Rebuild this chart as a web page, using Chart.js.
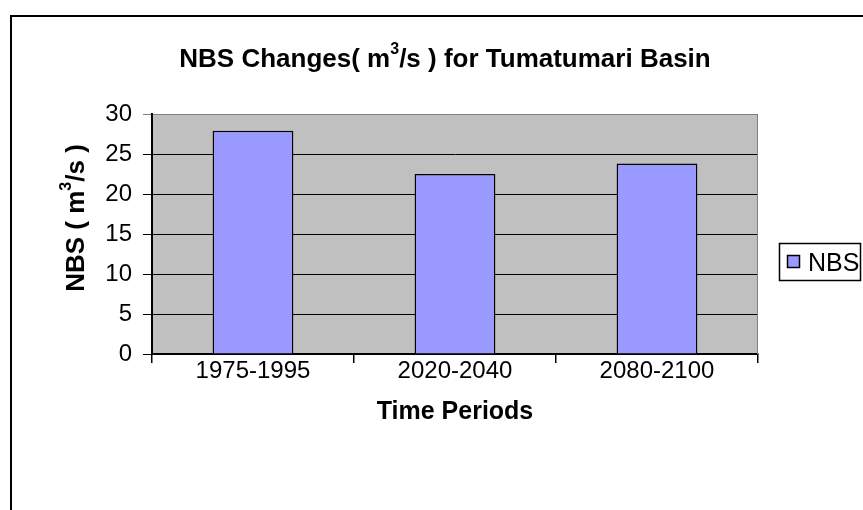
<!DOCTYPE html>
<html lang="en">
<head>
  <meta charset="UTF-8">
  <title>NBS Changes for Tumatumari Basin</title>
  <style>
    html, body {
      margin: 0;
      padding: 0;
      background: #ffffff;
    }
    #chartContainer {
      width: 863px;
      height: 510px;
    }
  </style>
  <script src="https://cdn.jsdelivr.net/npm/chart.js"></script>
</head>
<body>
  <div id="chartContainer">
    <canvas id="chartCanvas" width="863" height="510"></canvas>
  </div>

  <script>
    // dati
    const periods = ["1975-1995", "2020-2040", "2080-2100"];
    const nbsValues = [27.9, 22.5, 23.8];
    const seriesLabel = "NBS";
    const yMin = 0;
    const yMax = 30;
    const yStep = 5;

    const FONT = "Arial, 'Liberation Sans', sans-serif";

    // testo con apice (m³)
    function drawRich(ctx, parts, x, y, size) {
      const normal = "bold " + size + "px " + FONT;
      const small = "bold " + Math.round(size * 0.6) + "px " + FONT;
      let total = 0;
      parts.forEach(p => {
        ctx.font = p.sup ? small : normal;
        total += ctx.measureText(p.t).width;
      });
      let cx = x - total / 2;
      ctx.textAlign = "left";
      ctx.textBaseline = "alphabetic";
      parts.forEach(p => {
        ctx.font = p.sup ? small : normal;
        ctx.fillText(p.t, cx, p.sup ? y - size * 0.5 : y);
        cx += ctx.measureText(p.t).width;
      });
    }

    const decorPlugin = {
      id: "decor",
      beforeDraw(chart) {
        const ctx = chart.ctx;
        const a = chart.chartArea;
        ctx.save();
        ctx.fillStyle = "#ffffff";
        ctx.fillRect(0, 0, chart.width, chart.height);
        // cornice esterna
        ctx.strokeStyle = "#000000";
        ctx.lineWidth = 2;
        ctx.strokeRect(11, 16, chart.width + 20, chart.height + 20);
        // sfondo area del grafico
        ctx.fillStyle = "#c0c0c0";
        ctx.fillRect(a.left, a.top, a.right - a.left, a.bottom - a.top);
        ctx.restore();
      },
      afterDraw(chart) {
        const ctx = chart.ctx;
        const a = chart.chartArea;
        ctx.save();
        // bordo destro grigio
        ctx.strokeStyle = "#808080";
        ctx.lineWidth = 1;
        ctx.beginPath();
        ctx.moveTo(a.right - 0.5, a.top);
        ctx.lineTo(a.right - 0.5, a.bottom);
        ctx.stroke();

        ctx.fillStyle = "#000000";
        // titolo
        drawRich(ctx, [
          { t: "NBS Changes( m" }, { t: "3", sup: true }, { t: "/s ) for Tumatumari Basin" }
        ], 445, 67, 26);

        // titolo asse x
        ctx.font = "bold 25px " + FONT;
        ctx.textAlign = "center";
        ctx.textBaseline = "alphabetic";
        ctx.fillText("Time Periods", (a.left + a.right) / 2, 419);

        // titolo asse y (ruotato)
        ctx.save();
        ctx.translate(84, 218);
        ctx.rotate(-Math.PI / 2);
        drawRich(ctx, [
          { t: "NBS ( m" }, { t: "3", sup: true }, { t: "/s )" }
        ], 0, 0, 26);
        ctx.restore();

        // legenda
        const ds = chart.data.datasets[0];
        ctx.fillStyle = "#ffffff";
        ctx.fillRect(779, 243, 82, 38);
        ctx.strokeStyle = "#000000";
        ctx.lineWidth = 1.5;
        ctx.strokeRect(779.5, 243.5, 81, 37);
        ctx.fillStyle = ds.backgroundColor;
        ctx.fillRect(787, 255, 13, 13);
        ctx.strokeStyle = "#000000";
        ctx.lineWidth = 1.5;
        ctx.strokeRect(787.5, 255.5, 12, 12);
        ctx.fillStyle = "#000000";
        ctx.font = "25px " + FONT;
        ctx.textAlign = "left";
        ctx.textBaseline = "alphabetic";
        ctx.fillText(ds.label, 808, 271);
        ctx.restore();
      }
    };

    const ctx = document.getElementById("chartCanvas").getContext("2d");

    const chart = new Chart(ctx, {
      type: "bar",
      data: {
        labels: periods,
        datasets: [{
          label: seriesLabel,
          data: nbsValues,
          backgroundColor: "#9999ff",
          borderColor: "#000000",
          borderWidth: 1.5,
          barPercentage: 0.4,
          categoryPercentage: 1.0
        }]
      },
      options: {
        responsive: false,
        animation: false,
        devicePixelRatio: 1,
        layout: {
          padding: { left: 0, top: 114, right: 105, bottom: 0 }
        },
        plugins: {
          legend: { display: false },
          title: { display: false },
          tooltip: { enabled: false }
        },
        scales: {
          x: {
            afterFit(scale) { scale.height = 156; },
            grid: {
              display: true,
              offset: true,
              drawOnChartArea: false,
              drawTicks: true,
              tickLength: 9,
              color: "#000000",
              lineWidth: 1.5
            },
            border: { display: true, color: "#000000", width: 2 },
            ticks: {
              color: "#000000",
              font: { family: FONT, size: 24 },
              padding: -6,
              maxRotation: 0
            }
          },
          y: {
            min: yMin,
            max: yMax,
            afterFit(scale) { scale.width = 152; },
            grid: {
              display: true,
              drawTicks: true,
              tickLength: 9,
              color: c => (c.tick && c.tick.value === yMax ? "#808080" : "#000000"),
              lineWidth: 1
            },
            border: { display: true, color: "#000000", width: 2 },
            ticks: {
              stepSize: yStep,
              color: "#000000",
              font: { family: FONT, size: 24 },
              padding: 11
            }
          }
        }
      },
      plugins: [decorPlugin]
    });
  </script>
</body>
</html>
